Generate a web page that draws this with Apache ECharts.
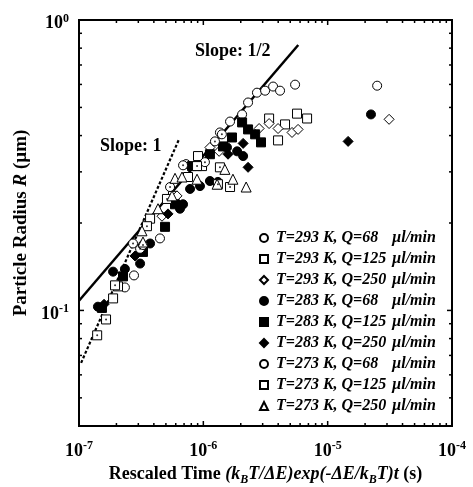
<!DOCTYPE html>
<html>
<head>
<meta charset="utf-8">
<title>Particle radius vs rescaled time</title>
<script src="https://cdn.jsdelivr.net/npm/echarts@6/dist/echarts.min.js"></script>
<style>
  html, body { margin: 0; padding: 0; background: #fff; }
  #chart { width: 473px; height: 487px; }
</style>
</head>
<body>
<div id="chart"></div>
<script>
// points: [rescaled time (s), particle radius (µm)]
const t293q68 = [[2.34e-7, 0.120], [2.77e-7, 0.132], [4.48e-7, 0.177], [7.26e-7, 0.319], [1.36e-6, 0.410],
  [1.64e-6, 0.447], [2.05e-6, 0.473], [2.29e-6, 0.520], [2.70e-6, 0.562], [3.14e-6, 0.571],
  [3.64e-6, 0.590], [4.14e-6, 0.571], [5.47e-6, 0.599], [2.50e-5, 0.594]];
const t293q125 = [[1.88e-7, 0.110], [2.06e-7, 0.121], [3.73e-7, 0.207], [5.70e-7, 0.248], [7.53e-7, 0.288],
  [9.06e-7, 0.340], [9.76e-7, 0.314], [3.38e-6, 0.458], [3.99e-6, 0.385], [4.54e-6, 0.437],
  [5.67e-6, 0.476], [6.83e-6, 0.458]];
const t293q250 = [[4.65e-7, 0.211], [6.14e-7, 0.248], [1.13e-6, 0.364], [1.34e-6, 0.353], [2.81e-6, 0.423],
  [3.38e-6, 0.440], [3.99e-6, 0.423], [5.17e-6, 0.410], [5.78e-6, 0.420], [3.12e-5, 0.455]];
const t283q68 = [[1.42e-7, 0.103], [1.88e-7, 0.136], [2.34e-7, 0.139], [3.10e-7, 0.145], [3.73e-7, 0.170],
  [6.49e-7, 0.224], [6.87e-7, 0.232], [7.82e-7, 0.262], [9.40e-7, 0.268], [1.13e-6, 0.279],
  [1.31e-6, 0.277], [1.55e-6, 0.364], [1.87e-6, 0.353], [2.09e-6, 0.340], [2.23e-5, 0.473]];
const t283q125 = [[1.53e-7, 0.102], [2.26e-7, 0.131], [3.27e-7, 0.159], [4.92e-7, 0.194], [5.92e-7, 0.232],
  [8.11e-7, 0.314], [1.13e-6, 0.345], [1.44e-6, 0.367], [1.70e-6, 0.394], [2.05e-6, 0.444],
  [2.29e-6, 0.420], [2.61e-6, 0.404], [2.91e-6, 0.379]];
const t283q250 = [[1.59e-7, 0.105], [2.82e-7, 0.154], [5.20e-7, 0.215], [1.58e-6, 0.345], [2.09e-6, 0.376],
  [2.29e-6, 0.311], [1.46e-5, 0.382]];
const t273q68 = [[2.72e-7, 0.170], [3.10e-7, 0.163], [3.27e-7, 0.168], [5.40e-7, 0.266], [6.87e-7, 0.316],
  [1.03e-6, 0.324], [1.24e-6, 0.382], [1.41e-6, 0.404]];
const t273q125 = [[1.40e-7, 0.0821], [1.65e-7, 0.0931], [1.95e-7, 0.122], [3.52e-7, 0.195], [5.10e-7, 0.242],
  [8.90e-7, 0.314], [1.31e-6, 0.272], [1.36e-6, 0.311], [1.64e-6, 0.266]];
const t273q250 = [[3.21e-7, 0.188], [3.27e-7, 0.172], [4.32e-7, 0.224], [5.60e-7, 0.248], [5.92e-7, 0.285],
  [6.74e-7, 0.288], [8.90e-7, 0.283], [1.29e-6, 0.272], [1.49e-6, 0.306], [1.73e-6, 0.283],
  [2.21e-6, 0.266]];

// guide lines
const slopeHalf = [[1e-7, 0.108], [5.8e-6, 0.82]];
const slopeOne = [[1.04e-7, 0.066], [6.4e-7, 0.39]];

const X_MIN = 1e-7, X_MAX = 1e-4;
const Y_MIN = 0.04, Y_MAX = 1;
const xMajorTicks = [1e-6, 1e-5];
const xMinorTicks = [2e-7, 3e-7, 4e-7, 5e-7, 6e-7, 7e-7, 8e-7, 9e-7,
  2e-6, 3e-6, 4e-6, 5e-6, 6e-6, 7e-6, 8e-6, 9e-6,
  2e-5, 3e-5, 4e-5, 5e-5, 6e-5, 7e-5, 8e-5, 9e-5];
const yMajorTicks = [0.1];
const yMinorTicks = [0.05, 0.06, 0.07, 0.08, 0.09, 0.2, 0.3, 0.4, 0.5, 0.6, 0.7, 0.8, 0.9];

const SERIF = '"Liberation Serif", "Times New Roman", serif';
const chart = echarts.init(document.getElementById('chart'));

// 10^n labels, only at whole decades
const powerLabel = (v) => {
  const e = Math.log10(v);
  if (Math.abs(e - Math.round(e)) > 1e-6) return '';
  return '{b|10}{s|' + Math.round(e) + '}';
};
const powerRich = {
  b: { fontFamily: SERIF, fontWeight: 'bold', fontSize: 18, color: '#000', lineHeight: 22 },
  s: { fontFamily: SERIF, fontWeight: 'bold', fontSize: 12, color: '#000', lineHeight: 12, verticalAlign: 'top' }
};

const markerStyle = (fill) => ({ color: fill, borderColor: '#000', borderWidth: 1, opacity: 1 });

const scatter = (name, data, symbol, size, fill) => ({
  name, type: 'scatter', data, symbol, symbolSize: size,
  itemStyle: markerStyle(fill), z: 3
});
const centreDot = (data) => ({
  type: 'scatter', data, symbol: 'circle', symbolSize: 2,
  itemStyle: { color: '#000' }, silent: true, z: 4
});

const tickLine = (x1, y1, x2, y2) => ({
  type: 'line', shape: { x1, y1, x2, y2 }, style: { stroke: '#000', lineWidth: 1.5 }
});
const xTickItem = (params, api) => {
  const v = api.value(0), len = api.value(2);
  const b = api.coord([v, Y_MIN]), t = api.coord([v, Y_MAX]);
  return { type: 'group', children: [
    tickLine(b[0], b[1], b[0], b[1] - len),
    tickLine(t[0], t[1], t[0], t[1] + len)
  ] };
};
const yTickItem = (params, api) => {
  const v = api.value(1), len = api.value(2);
  const l = api.coord([X_MIN, v]), r = api.coord([X_MAX, v]);
  return { type: 'group', children: [
    tickLine(l[0], l[1], l[0] + len, l[1]),
    tickLine(r[0], r[1], r[0] - len, r[1])
  ] };
};

const legendNames = ['T=293 K, Q=68', 'T=293 K, Q=125', 'T=293 K, Q=250',
  'T=283 K, Q=68', 'T=283 K, Q=125', 'T=283 K, Q=250',
  'T=273 K, Q=68', 'T=273 K, Q=125', 'T=273 K, Q=250'];

chart.setOption({
  animation: false,
  backgroundColor: '#fff',
  grid: {
    left: 79, right: 21, top: 20, bottom: 61,
    outerBoundsMode: 'none',
    show: true, borderColor: '#000', borderWidth: 2, backgroundColor: 'transparent'
  },
  legend: {
    data: legendNames,
    orient: 'vertical',
    left: 254, top: 225,
    itemWidth: 8, itemHeight: 8, itemGap: 5,
    selectedMode: false,
    formatter: (name) => '{t|' + name + '}{u|µl/min}',
    textStyle: {
      rich: {
        t: { fontFamily: SERIF, fontStyle: 'italic', fontWeight: 'bold', fontSize: 16, color: '#000',
          lineHeight: 14, width: 116, padding: [0, 0, 0, 3] },
        u: { fontFamily: SERIF, fontStyle: 'italic', fontWeight: 'bold', fontSize: 16, color: '#000', lineHeight: 14 }
      }
    }
  },
  xAxis: {
    type: 'log', logBase: 10, min: X_MIN, max: X_MAX,
    axisLine: { show: false },
    axisTick: { show: false },
    splitLine: { show: false },
    axisLabel: { formatter: powerLabel, rich: powerRich, margin: 9, padding: [5, 0, 0, 0],
      showMinLabel: true, showMaxLabel: true },
    name: '{r|Rescaled Time }{i|(k}{sub|B}{i|T/ΔE)exp(-ΔE/k}{sub|B}{i|T)t}{r| (s)}',
    nameLocation: 'middle', nameGap: 36,
    nameTextStyle: {
      rich: {
        r: { fontFamily: SERIF, fontWeight: 'bold', fontSize: 18, color: '#000', lineHeight: 24 },
        i: { fontFamily: SERIF, fontWeight: 'bold', fontStyle: 'italic', fontSize: 18, color: '#000', lineHeight: 24 },
        sub: { fontFamily: SERIF, fontWeight: 'bold', fontStyle: 'italic', fontSize: 12, color: '#000',
          lineHeight: 12, verticalAlign: 'bottom' }
      }
    }
  },
  yAxis: {
    type: 'log', logBase: 10, min: Y_MIN, max: Y_MAX,
    axisLine: { show: false },
    axisTick: { show: false },
    splitLine: { show: false },
    axisLabel: { formatter: powerLabel, rich: powerRich, margin: 10, padding: [7, 0, 0, 0],
      showMinLabel: true, showMaxLabel: true },
    name: '{r|Particle Radius }{i|R}{r| (µm)}',
    nameLocation: 'middle', nameGap: 42,
    nameTextStyle: {
      rich: {
        r: { fontFamily: SERIF, fontWeight: 'bold', fontSize: 19, color: '#000' },
        i: { fontFamily: SERIF, fontWeight: 'bold', fontStyle: 'italic', fontSize: 19, color: '#000' }
      }
    }
  },
  graphic: [
    { type: 'text', left: 195, top: 42, z: 10,
      style: { text: 'Slope: 1/2', font: 'bold 18px ' + SERIF, fill: '#000' } },
    { type: 'text', left: 100, top: 137, z: 10,
      style: { text: 'Slope: 1', font: 'bold 18px ' + SERIF, fill: '#000' } }
  ],
  series: [
    { type: 'line', data: slopeHalf, symbol: 'none', silent: true, z: 1,
      lineStyle: { color: '#000', width: 2.5 } },
    { type: 'line', data: slopeOne, symbol: 'none', silent: true, z: 1,
      lineStyle: { color: '#000', width: 2.2, type: [3, 2] } },
    { type: 'custom', renderItem: xTickItem, clip: false, silent: true, z: 5,
      encode: { x: 0, y: 1 },
      data: xMajorTicks.map(v => [v, Y_MIN, 5]).concat(xMinorTicks.map(v => [v, Y_MIN, 3])) },
    { type: 'custom', renderItem: yTickItem, clip: false, silent: true, z: 5,
      encode: { x: 0, y: 1 },
      data: yMajorTicks.map(v => [X_MIN, v, 5]).concat(yMinorTicks.map(v => [X_MIN, v, 3])) },
    scatter(legendNames[0], t293q68, 'circle', 9, '#fff'),
    scatter(legendNames[1], t293q125, 'rect', 9, '#fff'),
    scatter(legendNames[2], t293q250, 'diamond', 10, '#fff'),
    scatter(legendNames[3], t283q68, 'circle', 9, '#000'),
    scatter(legendNames[4], t283q125, 'rect', 9, '#000'),
    scatter(legendNames[5], t283q250, 'diamond', 10, '#000'),
    scatter(legendNames[6], t273q68, 'circle', 9, '#fff'),
    scatter(legendNames[7], t273q125, 'rect', 9, '#fff'),
    scatter(legendNames[8], t273q250, 'triangle', 10, '#fff'),
    centreDot(t273q68),
    centreDot(t273q125)
  ]
});
</script>
</body>
</html>
